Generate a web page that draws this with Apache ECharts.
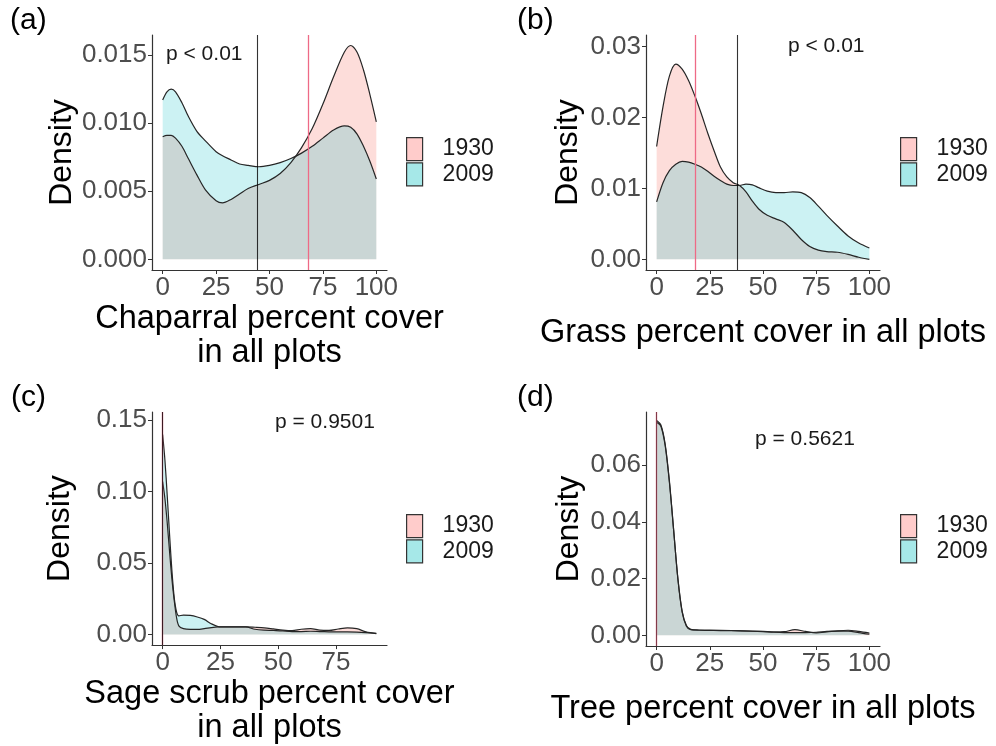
<!DOCTYPE html>
<html><head><meta charset="utf-8">
<script src="https://cdn.jsdelivr.net/npm/echarts@6/dist/echarts.min.js"></script>
<style>html,body{margin:0;padding:0;background:#fff}#c{width:996px;height:746px}</style>
</head><body><div id="c"></div>
<script>
// ---------- data ----------
const years = ['1930', '2009'];

// (a) Chaparral
const chapX    = [0, 2, 4, 6, 9, 12, 16, 20, 25, 28, 32, 36, 40, 45, 50, 55, 60, 65, 70, 75, 80, 85, 88, 91, 94, 97, 100];
const chap1930 = [0.0090, 0.0091, 0.0091, 0.0089, 0.0083, 0.0074, 0.0062, 0.0051, 0.0043, 0.00415, 0.0044, 0.0048, 0.0052, 0.0055, 0.0058, 0.0063, 0.0071, 0.0082, 0.0096, 0.0114, 0.0134, 0.0152, 0.0157, 0.0152, 0.0139, 0.0121, 0.0101];
const chap2009 = [0.0117, 0.0123, 0.0125, 0.0123, 0.0115, 0.0105, 0.0094, 0.0087, 0.0079, 0.0076, 0.0073, 0.0070, 0.0069, 0.0068, 0.0069, 0.0071, 0.0074, 0.0078, 0.0083, 0.0089, 0.0095, 0.0098, 0.0097, 0.0092, 0.0083, 0.0072, 0.0059];
const chapLines = [44.4, 68.2];     // [2009 line, 1930 line]

// (b) Grass
const grassX    = [0, 3, 6, 9, 12, 15, 18, 21, 24, 27, 30, 33, 36, 39, 42, 45, 48, 52, 56, 60, 64, 68, 72, 76, 80, 85, 90, 95, 100];
const grass1930 = [0.0159, 0.0215, 0.0258, 0.0275, 0.0268, 0.0252, 0.0230, 0.0205, 0.0178, 0.0153, 0.0130, 0.0116, 0.0108, 0.0104, 0.0095, 0.0082, 0.0071, 0.0062, 0.0057, 0.0052, 0.0041, 0.0028, 0.0018, 0.0013, 0.0011, 0.0010, 0.0007, 0.0003, 0.0000];
const grass2009 = [0.0081, 0.0108, 0.0125, 0.0134, 0.0138, 0.0137, 0.0134, 0.0130, 0.0124, 0.0117, 0.0111, 0.0106, 0.0104, 0.0104, 0.0106, 0.0105, 0.0101, 0.0096, 0.0094, 0.0094, 0.0095, 0.0094, 0.0087, 0.0075, 0.0062, 0.0047, 0.0033, 0.0023, 0.0016];
const grassLines = [38.0, 18.0];

// (c) Sage scrub
const sageX    = [0, 1, 2, 3, 4, 5, 6, 7, 9, 12, 15, 18, 21, 24, 28, 32, 36, 40, 44, 48, 52, 56, 60, 64, 68, 72, 76, 80, 84, 88, 92.5];
const sage1930 = [0.107, 0.095, 0.078, 0.058, 0.039, 0.024, 0.012, 0.006, 0.0040, 0.0035, 0.0035, 0.0040, 0.0047, 0.0052, 0.0053, 0.0052, 0.0053, 0.0050, 0.0046, 0.0038, 0.0030, 0.0026, 0.0036, 0.0040, 0.0030, 0.0028, 0.0038, 0.0046, 0.0040, 0.0018, 0.0005];
const sage2009 = [0.140, 0.122, 0.097, 0.070, 0.045, 0.026, 0.016, 0.013, 0.0135, 0.0133, 0.0122, 0.0105, 0.0075, 0.0055, 0.0052, 0.0053, 0.0052, 0.0036, 0.0030, 0.0028, 0.0024, 0.0020, 0.0020, 0.0022, 0.0020, 0.0018, 0.0017, 0.0017, 0.0016, 0.0013, 0.0008];
const sageLines = [0.0, 0.0];

// (d) Tree
const treeX    = [0, 2, 4, 6, 8, 10, 12, 14, 16, 20, 30, 40, 50, 55, 60, 65, 70, 75, 80, 85, 90, 95, 100];
const tree1930 = [0.0752, 0.0738, 0.0670, 0.0540, 0.0370, 0.0200, 0.0085, 0.0035, 0.0021, 0.0018, 0.0017, 0.0016, 0.0014, 0.0012, 0.0013, 0.0020, 0.0014, 0.0009, 0.0012, 0.0016, 0.0018, 0.0014, 0.0008];
const tree2009 = [0.0758, 0.0742, 0.0675, 0.0545, 0.0372, 0.0198, 0.0082, 0.0032, 0.0020, 0.0019, 0.0018, 0.0016, 0.0013, 0.0011, 0.0010, 0.0010, 0.0010, 0.0011, 0.0014, 0.0015, 0.0015, 0.0010, 0.0004];
const treeLines = [0.0, 0.0];

const xTicks = [0, 25, 50, 75, 100];
const xTicksC = [0, 25, 50, 75];
const yTicksA = [0, 0.005, 0.010, 0.015];
const yTicksB = [0, 0.01, 0.02, 0.03];
const yTicksC = [0, 0.05, 0.10, 0.15];
const yTicksD = [0, 0.02, 0.04, 0.06];

const pTexts = ['p < 0.01', 'p < 0.01', 'p = 0.9501', 'p = 0.5621'];
const panelLabels = ['(a)', '(b)', '(c)', '(d)'];
const xTitles = ['Chaparral percent cover\nin all plots', 'Grass percent cover in all plots', 'Sage scrub percent cover\nin all plots', 'Tree percent cover in all plots'];

// ---------- layout / style ----------
const FONT = 'Liberation Sans, Arial, sans-serif';
const grids = [
  {left: 152, top: 35, width: 235, height: 235},
  {left: 646, top: 35, width: 234, height: 235},
  {left: 152, top: 412, width: 235, height: 234},
  {left: 646, top: 412, width: 234, height: 234}
];
const xRanges = [[-5, 105], [-5, 105], [-4.6, 97.1], [-5, 105]];
const yRanges = [[-0.00078, 0.01647], [-0.0015, 0.0316], [-0.0075, 0.1558], [-0.00375, 0.0788]];
const yTickSets = [yTicksA, yTicksB, yTicksC, yTicksD];
const yDigits = [3, 2, 2, 2];
const xTickSets = [xTicks, xTicks, xTicksC, xTicks];
const xNameGaps = [30, 46, 26, 46];
const yNameGaps = [74, 62, 76, 61];
const lineBlackOpacity = [0.8, 0.8, 0.75, 0.45];

const pink = '#F8766D', cyan = '#00BFC4';
const pinkFill = 'rgba(248,118,109,0.25)';
const cyanFill = 'rgba(0,191,196,0.2)';
const axisCol = '#333333';

const panels = [
  {x: chapX, a: chap1930, b: chap2009, lines: chapLines},
  {x: grassX, a: grass1930, b: grass2009, lines: grassLines},
  {x: sageX, a: sage1930, b: sage2009, lines: sageLines},
  {x: treeX, a: tree1930, b: tree2009, lines: treeLines}
];

const xAxes = [], yAxes = [], series = [], legends = [], graphics = [];
panels.forEach((p, i) => {
  xAxes.push({
    type: 'value', gridIndex: i, min: xRanges[i][0], max: xRanges[i][1],
    name: xTitles[i], nameLocation: 'middle', nameGap: xNameGaps[i],
    nameTextStyle: {fontSize: 32.5, color: '#000', fontFamily: FONT, lineHeight: 34},
    axisLine: {show: true, onZero: false, lineStyle: {color: axisCol, width: 1.2}},
    axisTick: {show: true, length: 4, lineStyle: {color: axisCol}, customValues: xTickSets[i]},
    axisLabel: {fontSize: 26, color: '#4D4D4D', fontFamily: FONT, margin: 5, customValues: xTickSets[i]},
    splitLine: {show: false}
  });
  yAxes.push({
    type: 'value', gridIndex: i, min: yRanges[i][0], max: yRanges[i][1],
    name: 'Density', nameLocation: 'middle', nameGap: yNameGaps[i],
    nameTextStyle: {fontSize: 32, color: '#000', fontFamily: FONT},
    axisLine: {show: true, onZero: false, lineStyle: {color: axisCol, width: 1.2}},
    axisTick: {show: true, length: 4, lineStyle: {color: axisCol}, customValues: yTickSets[i]},
    axisLabel: {fontSize: 26, color: '#4D4D4D', fontFamily: FONT, margin: 5, customValues: yTickSets[i],
      formatter: v => Number(v).toFixed(yDigits[i])},
    splitLine: {show: false}
  });
  const mk = (name, ys, fill, extra) => Object.assign({
    name: name, type: 'line', xAxisIndex: i, yAxisIndex: i,
    data: p.x.map((x, k) => [x, ys[k]]),
    smooth: 0.3, showSymbol: false, symbol: 'none', silent: true,
    lineStyle: {color: '#262626', width: 1.2},
    itemStyle: {color: name === '1930' ? pink : cyan},
    areaStyle: {color: fill, opacity: 1, origin: 0}
  }, extra || {});
  series.push(mk(years[0], p.a, pinkFill));
  series.push(mk(years[1], p.b, cyanFill, {
    markLine: {
      silent: true, symbol: ['none', 'none'], label: {show: false},
      data: [
        {xAxis: p.lines[1], lineStyle: {color: '#EE6A86', width: 1.3, type: 'solid', opacity: 1}},
        {xAxis: p.lines[0], lineStyle: {color: '#000', width: 1.1, type: 'solid', opacity: lineBlackOpacity[i]}}
      ]
    }
  }));
  const g = grids[i];
  legends.push({
    orient: 'vertical', left: g.left + 254, top: g.top + 102, padding: 0,
    itemWidth: 16, itemHeight: 23, itemGap: 1, selectedMode: false,
    textStyle: {fontSize: 23, color: '#1a1a1a', fontFamily: FONT, lineHeight: 24, padding: [0, 0, 0, 15]},
    data: [
      {name: years[0], icon: 'rect', itemStyle: {color: '#FFCCCB', borderColor: '#333', borderWidth: 1.2}},
      {name: years[1], icon: 'rect', itemStyle: {color: '#A6E8E8', borderColor: '#333', borderWidth: 1.2}}
    ]
  });
});

const pPos = [[166, 44], [788, 36], [275, 412], [755, 429]];
pTexts.forEach((t, i) => graphics.push({type: 'text', left: pPos[i][0], top: pPos[i][1],
  style: {text: t, font: '21px ' + FONT, fill: '#1a1a1a'}}));
const lPos = [[10, 6], [517, 6], [11, 383], [517, 383]];
panelLabels.forEach((t, i) => graphics.push({type: 'text', left: lPos[i][0], top: lPos[i][1],
  style: {text: t, font: '30px ' + FONT, fill: '#000'}}));

const chart = echarts.init(document.getElementById('c'), null, {renderer: 'canvas'});
chart.setOption({
  animation: false,
  backgroundColor: '#fff',
  grid: grids.map(g => Object.assign({containLabel: false}, g)),
  xAxis: xAxes, yAxis: yAxes, series: series, legend: legends, graphic: graphics
});
</script></body></html>
